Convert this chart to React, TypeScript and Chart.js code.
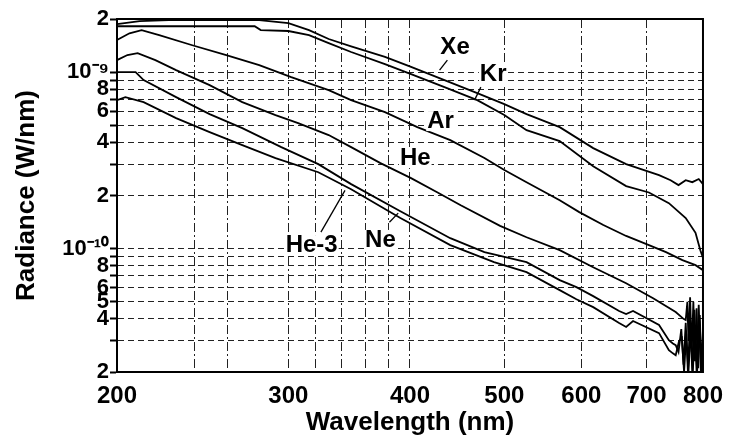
import React, { useEffect, useRef } from 'react';
import { Chart, registerables } from 'chart.js';

Chart.register(...registerables);

// ---- data (wavelength in nm, radiance in W/nm) ----
const xeWavelength = [200, 211, 226, 255, 280, 300, 315, 330, 348, 377, 401, 434, 469, 500, 527, 570, 617, 667, 721, 741, 755, 768, 780, 792, 800];
const xeRadiance = [1.87e-9, 1.945e-9, 1.97e-9, 1.97e-9, 1.97e-9, 1.895e-9, 1.73e-9, 1.54e-9, 1.4e-9, 1.22e-9, 1.07e-9, 9.01e-10, 7.61e-10, 6.59e-10, 5.78e-10, 4.88e-10, 3.71e-10, 3.01e-10, 2.61e-10, 2.44e-10, 2.29e-10, 2.44e-10, 2.38e-10, 2.48e-10, 2.32e-10];

const krWavelength = [200, 216, 243, 277, 281, 300, 315, 330, 348, 377, 401, 434, 469, 500, 527, 570, 617, 667, 704, 738, 768, 786, 795, 800];
const krRadiance = [1.82e-9, 1.82e-9, 1.82e-9, 1.82e-9, 1.73e-9, 1.71e-9, 1.62e-9, 1.46e-9, 1.3e-9, 1.11e-9, 9.74e-10, 8.22e-10, 6.94e-10, 5.71e-10, 4.69e-10, 4.07e-10, 2.93e-10, 2.26e-10, 2.08e-10, 1.81e-10, 1.49e-10, 1.23e-10, 9.8e-11, 8.84e-11];

const arWavelength = [200, 206, 212, 221, 239, 259, 280, 302, 330, 348, 377, 407, 440, 477, 500, 527, 570, 597, 632, 667, 704, 733, 762, 786, 800];
const arRadiance = [1.52e-9, 1.66e-9, 1.73e-9, 1.62e-9, 1.42e-9, 1.25e-9, 1.096e-9, 9.37e-10, 7.91e-10, 6.94e-10, 5.93e-10, 4.88e-10, 4.12e-10, 3.26e-10, 2.79e-10, 2.38e-10, 1.88e-10, 1.61e-10, 1.36e-10, 1.18e-10, 1.047e-10, 9.55e-11, 8.61e-11, 8.06e-11, 7.55e-11];

const heWavelength = [200, 205, 210, 219, 230, 249, 269, 291, 307, 330, 348, 373, 401, 427, 451, 495, 527, 570, 617, 667, 711, 750, 764, 768, 771, 773, 776, 779, 782, 785, 788, 791, 794, 797, 800];
const heRadiance = [1.17e-9, 1.25e-9, 1.28e-9, 1.17e-9, 1.026e-9, 8.44e-10, 6.76e-10, 5.71e-10, 5.14e-10, 4.4e-10, 3.76e-10, 3.05e-10, 2.51e-10, 2.08e-10, 1.76e-10, 1.345e-10, 1.16e-10, 9.8e-11, 7.85e-11, 6.37e-11, 5.24e-11, 4.37e-11, 4.0e-11, 3.94e-11, 5.0e-11, 3.0e-11, 5.3e-11, 2.6e-11, 5.0e-11, 2.3e-11, 4.6e-11, 2.1e-11, 4.2e-11, 2.0e-11, 3.5e-11];

const neWavelength = [200, 209, 213, 230, 249, 269, 295, 322, 348, 391, 440, 477, 527, 570, 593, 617, 656, 667, 678, 721, 738, 745, 750, 755, 760, 764, 768, 772, 776, 780, 784, 788, 792, 796, 800];
const neRadiance = [1.0e-9, 1.0e-9, 9.01e-10, 7.22e-10, 5.78e-10, 4.82e-10, 3.76e-10, 3.01e-10, 2.32e-10, 1.63e-10, 1.146e-10, 9.55e-11, 8.39e-11, 6.63e-11, 6.05e-11, 5.38e-11, 4.43e-11, 4.26e-11, 4.43e-11, 3.69e-11, 3.03e-11, 2.9e-11, 2.84e-11, 2.6e-11, 3.5e-11, 2.2e-11, 3.8e-11, 2.0e-11, 4.0e-11, 2.0e-11, 4.5e-11, 2.0e-11, 4.8e-11, 2.0e-11, 3.0e-11];

const he3Wavelength = [200, 204, 213, 230, 249, 269, 291, 322, 348, 391, 440, 488, 527, 570, 593, 617, 656, 667, 678, 721, 738, 745, 750, 756, 761, 765, 769, 773, 777, 781, 785, 789, 793, 797, 800];
const he3Radiance = [6.94e-10, 7.22e-10, 6.76e-10, 5.49e-10, 4.57e-10, 3.86e-10, 3.26e-10, 2.71e-10, 2.17e-10, 1.49e-10, 1.047e-10, 8.39e-11, 7.36e-11, 5.82e-11, 5.17e-11, 4.66e-11, 3.79e-11, 3.6e-11, 3.89e-11, 3.32e-11, 2.66e-11, 2.55e-11, 2.49e-11, 3.0e-11, 3.12e-11, 2.0e-11, 3.3e-11, 2.0e-11, 3.45e-11, 2.0e-11, 3.7e-11, 2.0e-11, 3.9e-11, 2.0e-11, 3.2e-11];

// ---- axes ----
const yTickValues = [2e-11, 3e-11, 4e-11, 5e-11, 6e-11, 7e-11, 8e-11, 9e-11, 1e-10, 2e-10, 3e-10, 4e-10, 5e-10, 6e-10, 7e-10, 8e-10, 9e-10, 1e-9, 2e-9];
const yTickLabels = ['2', '', '4', '5', '6', '', '8', '', '10\u207B\u00B9\u2070', '2', '', '4', '', '6', '', '8', '', '10\u207B\u2079', '2'];
const xTickValues = [200, 240, 260, 300, 320, 340, 360, 380, 400, 500, 600, 700, 800];
const xTickLabels = ['200', '', '', '300', '', '', '', '', '400', '500', '600', '700', '800'];

// ---- curve labels & leader lines ----
const curveLabelText = ['Xe', 'Kr', 'Ar', 'He', 'He-3', 'Ne'];
const curveLabelWl = [445, 487, 430, 405, 317, 373];
const curveLabelRad = [1.38e-9, 9.74e-10, 5.28e-10, 3.26e-10, 1.047e-10, 1.12e-10];
const leaderFromWl = [429, 466, 324, 381];
const leaderFromRad = [1.026e-9, 6.94e-10, 1.24e-10, 1.41e-10];
const leaderToWl = [437, 473, 343, 389];
const leaderToRad = [1.17e-9, 8.22e-10, 2.14e-10, 1.59e-10];

const seriesList = [
  { name: 'Xe', wl: xeWavelength, rad: xeRadiance },
  { name: 'Kr', wl: krWavelength, rad: krRadiance },
  { name: 'Ar', wl: arWavelength, rad: arRadiance },
  { name: 'He', wl: heWavelength, rad: heRadiance },
  { name: 'Ne', wl: neWavelength, rad: neRadiance },
  { name: 'He-3', wl: he3Wavelength, rad: he3Radiance },
];

const FONT = "'Liberation Sans', Arial, Helvetica, sans-serif";

function findIndex(arr: number[], v: number) {
  for (let i = 0; i < arr.length; i++) {
    if (Math.abs(Math.log10(arr[i]) - Math.log10(v)) < 1e-6) return i;
  }
  return -1;
}

const decorPlugin = {
  id: 'decor',
  afterDatasetsDraw(chart: any) {
    const { ctx, chartArea, scales } = chart;
    const xs = scales.x;
    const ys = scales.y;
    ctx.save();
    ctx.strokeStyle = '#000';
    ctx.lineWidth = 2;
    ctx.setLineDash([]);
    ctx.strokeRect(chartArea.left, chartArea.top, chartArea.right - chartArea.left, chartArea.bottom - chartArea.top);

    ctx.lineWidth = 1.3;
    for (let i = 0; i < leaderFromWl.length; i++) {
      ctx.beginPath();
      ctx.moveTo(xs.getPixelForValue(leaderFromWl[i]), ys.getPixelForValue(leaderFromRad[i]));
      ctx.lineTo(xs.getPixelForValue(leaderToWl[i]), ys.getPixelForValue(leaderToRad[i]));
      ctx.stroke();
    }

    ctx.font = `bold 24px ${FONT}`;
    ctx.textAlign = 'center';
    ctx.textBaseline = 'middle';
    for (let i = 0; i < curveLabelText.length; i++) {
      const px = xs.getPixelForValue(curveLabelWl[i]);
      const py = ys.getPixelForValue(curveLabelRad[i]);
      const w = ctx.measureText(curveLabelText[i]).width;
      ctx.fillStyle = '#fff';
      ctx.fillRect(px - w / 2 - 1, py - 10, w + 2, 20);
      ctx.fillStyle = '#000';
      ctx.fillText(curveLabelText[i], px, py);
    }
    ctx.restore();
  },
};

export default function App() {
  const ref = useRef<HTMLCanvasElement | null>(null);

  useEffect(() => {
    document.body.style.margin = '0';
    const canvas = ref.current;
    if (!canvas) return;

    const chart = new Chart(canvas, {
      type: 'line',
      data: {
        datasets: seriesList.map((s) => ({
          label: s.name,
          data: s.wl.map((w, i) => ({ x: w, y: s.rad[i] })),
          borderColor: '#000',
          borderWidth: 1.8,
          pointRadius: 0,
          tension: 0,
          fill: false,
        })),
      },
      options: {
        responsive: false,
        animation: false,
        devicePixelRatio: 1,
        layout: { padding: { top: 19, right: 25, left: 0, bottom: 0 } },
        plugins: {
          legend: { display: false },
          tooltip: { enabled: false },
        },
        scales: {
          x: {
            type: 'logarithmic',
            min: 200,
            max: 800,
            afterBuildTicks: (scale: any) => {
              scale.ticks = xTickValues.map((v) => ({ value: v }));
            },
            afterFit: (scale: any) => {
              scale.height = 66;
            },
            ticks: {
              autoSkip: false,
              maxRotation: 0,
              minRotation: 0,
              padding: 10,
              color: '#000',
              font: { family: FONT, size: 24, weight: 'bold' },
              callback: (v: any) => {
                const i = findIndex(xTickValues, Number(v));
                return i >= 0 ? xTickLabels[i] : '';
              },
            },
            grid: {
              color: '#222',
              lineWidth: 1,
              drawTicks: false,
            },
            border: { display: true, color: '#000', width: 2, dash: [9, 3, 2, 3] },
            title: {
              display: true,
              text: 'Wavelength (nm)',
              color: '#000',
              font: { family: FONT, size: 26, weight: 'bold' },
              padding: { top: 0, bottom: 0 },
            },
          },
          y: {
            type: 'logarithmic',
            min: 2e-11,
            max: 2e-9,
            afterBuildTicks: (scale: any) => {
              scale.ticks = yTickValues.map((v) => ({ value: v }));
            },
            afterFit: (scale: any) => {
              scale.width = 117;
            },
            ticks: {
              autoSkip: false,
              padding: 1,
              color: '#000',
              font: { family: FONT, size: 22, weight: 'bold' },
              callback: (v: any) => {
                const i = findIndex(yTickValues, Number(v));
                return i >= 0 ? yTickLabels[i] : '';
              },
            },
            grid: {
              color: '#222',
              lineWidth: 1,
              drawTicks: true,
              tickLength: 7,
              tickColor: '#000',
              tickWidth: 2,
            },
            border: { display: true, color: '#000', width: 2, dash: [6, 4] },
            title: {
              display: true,
              text: 'Radiance (W/nm)',
              color: '#000',
              font: { family: FONT, size: 26, weight: 'bold' },
              padding: { top: 11, bottom: 0 },
            },
          },
        },
      },
      plugins: [decorPlugin],
    } as any);

    return () => chart.destroy();
  }, []);

  return (
    <div style={{ width: 733, height: 438 }}>
      <canvas ref={ref} width={733} height={438} style={{ display: 'block', width: 733, height: 438 }} />
    </div>
  );
}
